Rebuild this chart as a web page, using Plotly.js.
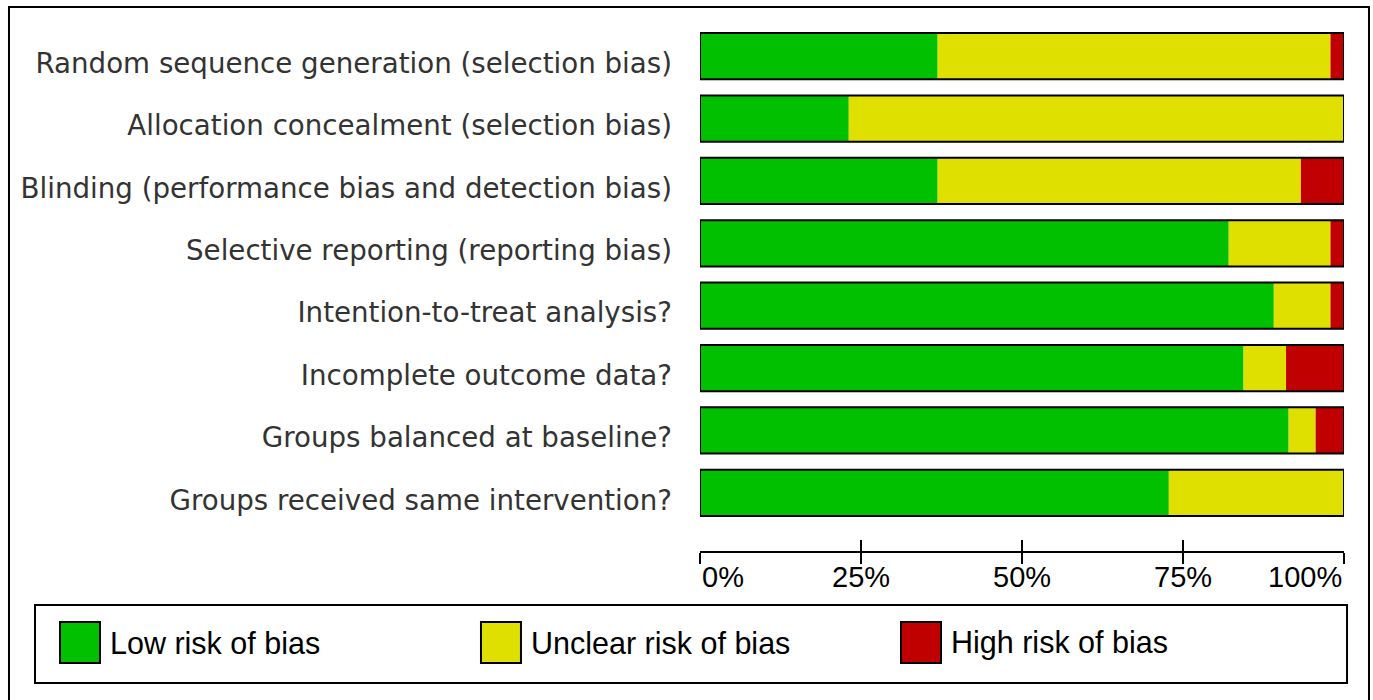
<!DOCTYPE html>
<html>
<head>
<meta charset="utf-8">
<script src="https://cdn.plot.ly/plotly-3.0.1.min.js"></script>
<style>
html,body{margin:0;padding:0;background:#fff;}
#chart{width:1373px;height:700px;}
</style>
</head>
<body>
<div id="chart"></div>
<script>
// ---- data ----
const domains = [
  "Random sequence generation (selection bias)",
  "Allocation concealment (selection bias)",
  "Blinding (performance bias and detection bias)",
  "Selective reporting (reporting bias)",
  "Intention-to-treat analysis?",
  "Incomplete outcome data?",
  "Groups balanced at baseline?",
  "Groups received same intervention?"
];
const lowRisk     = [36.9, 23.1, 36.9, 82.1, 89.1, 84.4, 91.4, 72.8];
const unclearRisk = [61.0, 76.9, 56.4, 15.8,  8.8,  6.6,  4.2, 27.2];
const highRisk    = [ 2.1,  0.0,  6.7,  2.1,  2.1,  9.0,  4.4,  0.0];
const seriesNames  = ["Low risk of bias", "Unclear risk of bias", "High risk of bias"];
const seriesColors = ["#00C000", "#E0E000", "#C00000"];
const tickVals   = [0, 25, 50, 75, 100];
const tickLabels = ["0%", "25%", "50%", "75%", "100%"];

// ---- build ----
const series = [lowRisk, unclearRisk, highRisk];
const yIdx = domains.map((d, i) => i);
const traces = [];
let base = domains.map(() => 0);
series.forEach((vals, s) => {
  traces.push({
    type: "bar", orientation: "h",
    y: yIdx, x: vals, base: base.slice(),
    marker: {color: seriesColors[s], line: {width: 0}},
    name: seriesNames[s], showlegend: false, hoverinfo: "skip",
    width: 0.74
  });
  base = base.map((b, i) => b + vals[i]);
});
// outline of each whole bar
traces.push({
  type: "bar", orientation: "h",
  y: yIdx, x: base, base: domains.map(() => 0),
  marker: {color: "rgba(0,0,0,0)", line: {color: "#000", width: 2}},
  showlegend: false, hoverinfo: "skip", width: 0.74
});
// dummy trace for second x axis (crossing ticks)
traces.push({type: "scatter", x: [0, 100], y: [0, 0], xaxis: "x2", mode: "none", showlegend: false, hoverinfo: "skip"});

const annotations = tickVals.map((v, i) => ({
  x: v, xref: "x", y: -0.016, yref: "paper", yanchor: "top",
  xanchor: i === 0 ? "left" : (i === tickVals.length - 1 ? "right" : "center"),
  text: tickLabels[i], showarrow: false,
  font: {family: "Liberation Sans, Arial, sans-serif", size: 29, color: "#000"}
}));

// frame and custom legend (large swatches), paper coords
const shapes = [
  {type: "rect", xref: "paper", yref: "paper", x0: -1.073, x1: 1.0388, y0: -0.33, y1: 1.0342,
   line: {color: "#000", width: 2}, fillcolor: "rgba(0,0,0,0)"},
  {type: "rect", xref: "paper", yref: "paper", x0: -1.0326, x1: 1.0047, y0: -0.2509, y1: -0.1027,
   line: {color: "#000", width: 2}, fillcolor: "rgba(0,0,0,0)"}
];
const legendX = [-0.9938, -0.3401, 0.3121];
seriesNames.forEach((n, s) => {
  shapes.push({type: "rect", xref: "paper", yref: "paper",
    x0: legendX[s], x1: legendX[s] + 0.0621, y0: -0.2129, y1: -0.1350,
    fillcolor: seriesColors[s], line: {color: "#000", width: 2}});
  annotations.push({x: legendX[s] + 0.0745, xref: "paper", y: -0.174, yref: "paper",
    xanchor: "left", yanchor: "middle", text: n, showarrow: false,
    font: {family: "Liberation Sans, Arial, sans-serif", size: 30.5, color: "#000"}});
});

const layout = {
  width: 1373, height: 700,
  margin: {l: 700, r: 29, t: 25, b: 149, pad: 0},
  paper_bgcolor: "#fff", plot_bgcolor: "#fff",
  barmode: "overlay",
  showlegend: false,
  xaxis: {range: [0, 100], autorange: false, showgrid: false, zeroline: false,
    showline: true, linecolor: "#000", linewidth: 2,
    tickvals: tickVals, ticktext: tickLabels, showticklabels: false,
    ticks: "outside", ticklen: 11, tickwidth: 2, tickcolor: "#000", fixedrange: true},
  xaxis2: {overlaying: "x", anchor: "y", side: "bottom", range: [0, 100], autorange: false,
    showgrid: false, zeroline: false, showline: false,
    tickvals: tickVals, showticklabels: false,
    ticks: "inside", ticklen: 11, tickwidth: 2, tickcolor: "#000", fixedrange: true},
  yaxis: {range: [7.933, -0.5], autorange: false, showgrid: false, zeroline: false,
    showline: false, tickvals: yIdx, ticktext: domains, ticks: "",
    ticklabelstandoff: 27, ticklabelshift: -7,
    tickfont: {family: "DejaVu Sans, sans-serif", size: 27.7, color: "#333"}, fixedrange: true},
  shapes: shapes,
  annotations: annotations
};

Plotly.newPlot("chart", traces, layout, {staticPlot: true, displayModeBar: false});
</script>
</body>
</html>
